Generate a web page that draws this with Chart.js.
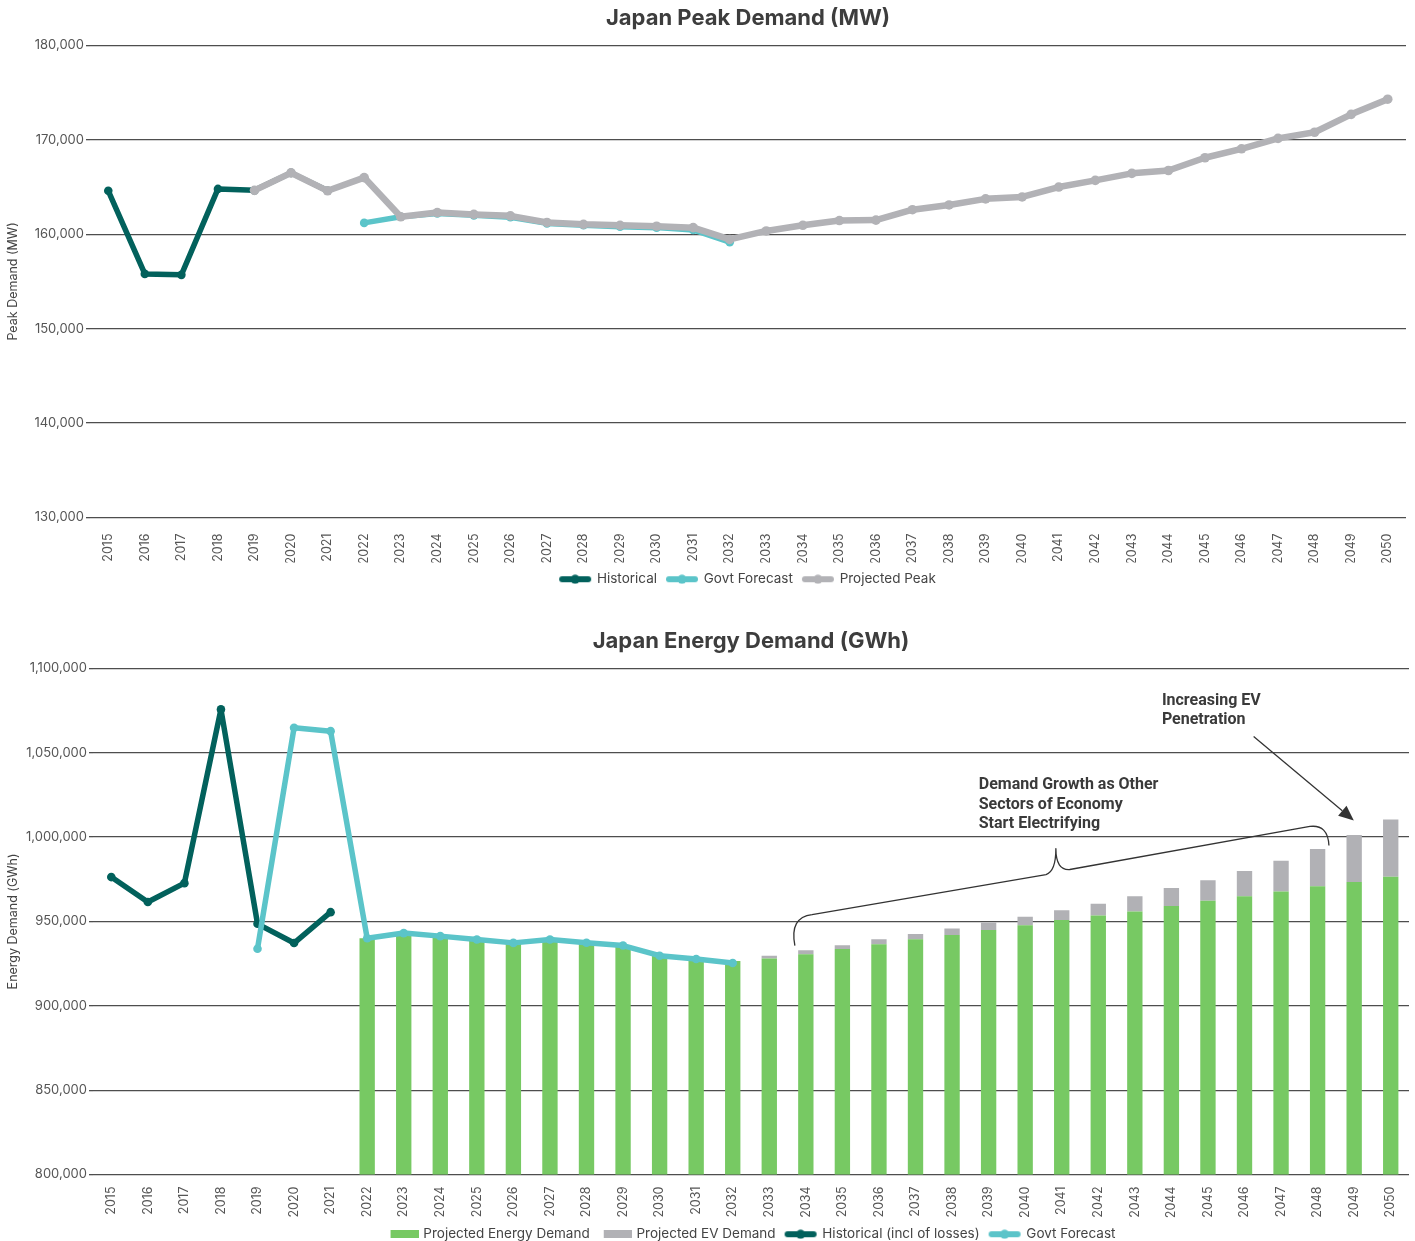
<!DOCTYPE html>
<html>
<head>
<meta charset="utf-8">
<title>Japan Peak and Energy Demand</title>
<script src="https://cdn.jsdelivr.net/npm/chart.js@4.4.1/dist/chart.umd.min.js"></script>
<style>
  html, body { margin: 0; padding: 0; background: #ffffff; overflow: hidden; }
  #peakWrap { position: absolute; left: 0; top: 0; width: 1415px; height: 596px; }
  #energyWrap { position: absolute; left: 0; top: 623px; width: 1415px; height: 628px; }
</style>
</head>
<body>
<div id="peakWrap"><canvas id="peakChart" width="1415" height="596"></canvas></div>
<div id="energyWrap"><canvas id="energyChart" width="1415" height="628"></canvas></div>
<script>
// ---- Categories ----
const years = ['2015','2016','2017','2018','2019','2020','2021','2022','2023','2024','2025','2026',
  '2027','2028','2029','2030','2031','2032','2033','2034','2035','2036','2037','2038','2039','2040',
  '2041','2042','2043','2044','2045','2046','2047','2048','2049','2050'];

// ---- Peak demand (MW) ----
const peakHistorical = [164600, 155800, 155700, 164800, 164650, 166500, 164600,
  null, null, null, null, null, null, null, null, null, null, null, null, null, null, null,
  null, null, null, null, null, null, null, null, null, null, null, null, null, null];
const peakGovtForecast = [null, null, null, null, null, null, null,
  161200, 161850, 162200, 162000, 161800, 161150, 160950, 160800, 160700, 160450, 159150,
  null, null, null, null, null, null, null, null, null, null, null, null, null, null, null, null, null, null];
const peakProjected = [null, null, null, null,
  164650, 166500, 164600, 166000, 161850, 162300, 162100, 161950, 161250, 161050, 160950, 160850,
  160700, 159450, 160350, 160950, 161450, 161500, 162600, 163100, 163750, 163950, 165000, 165700,
  166450, 166750, 168100, 169050, 170150, 170800, 172700, 174300];
const peakTicks = { min: 130000, max: 180000, step: 10000 };

// ---- Energy demand (GWh) ----
const energyProjected = [null, null, null, null, null, null, null,
  940000, 942500, 941000, 939000, 937000, 939000, 937000, 935500, 929500, 927500, 926500,
  928000, 930600, 933600, 936500, 939500, 941900, 944900, 947800, 950800, 953600, 955900, 959100,
  962300, 964900, 967800, 970800, 973400, 976500];
const energyEV = [null, null, null, null, null, null, null,
  0, 0, 0, 0, 0, 0, 0, 0, 0, 0, 0,
  1600, 2400, 2300, 3000, 3000, 3900, 4500, 5000, 5900, 6900, 9000, 10700,
  12100, 15000, 18200, 22200, 27900, 33900];
const energyHistorical = [976300, 961500, 972700, 1075700, 948600, 937200, 955500,
  null, null, null, null, null, null, null, null, null, null, null, null, null, null, null,
  null, null, null, null, null, null, null, null, null, null, null, null, null, null];
const energyGovtForecast = [null, null, null, null,
  933800, 1064800, 1062800, 940000, 943100, 941300, 939300, 937300, 939300, 937400, 935700,
  929700, 927700, 925400,
  null, null, null, null, null, null, null, null, null, null, null, null, null, null, null, null, null, null];
const energyTicks = { min: 800000, max: 1100000, step: 50000 };

// ---- Palette ----
const TEAL = '#02615c';
const CYAN = '#5bc4c9';
const GREY_LINE = '#b2b2b6';
const GREEN = '#77c963';
const GREY_BAR = '#b1b1b5';
const TEXT = '#444444';
const GRID = '#4e4e4e';

// Legend swatches: thick rounded line with a dot, or a flat block for bars
function lineSwatch(color) {
  const c = document.createElement('canvas');
  c.width = 34; c.height = 10;
  const g = c.getContext('2d');
  g.strokeStyle = color; g.lineWidth = 6; g.lineCap = 'round';
  g.beginPath(); g.moveTo(4, 5); g.lineTo(30, 5); g.stroke();
  g.fillStyle = color;
  g.beginPath(); g.arc(17, 5, 4.6, 0, Math.PI * 2); g.fill();
  return c;
}
function barSwatch(color) {
  const c = document.createElement('canvas');
  c.width = 34; c.height = 8;
  const g = c.getContext('2d');
  g.fillStyle = color; g.fillRect(6, 0, 28, 8);
  return c;
}

const baseFont = 'Inter, "Noto Sans", sans-serif';

function legendOptions(swatches) {
  return {
    position: 'bottom',
    fullSize: false,
    labels: {
      usePointStyle: true,
      pointStyleWidth: 30,
      boxHeight: 10,
      padding: 10,
      color: TEXT,
      font: { family: baseFont, size: 13.5 },
      generateLabels(chart) {
        const items = Chart.defaults.plugins.legend.labels.generateLabels(chart);
        items.sort((a, b) => a.datasetIndex - b.datasetIndex);
        items.forEach(it => { it.pointStyle = swatches[it.datasetIndex]; });
        return items;
      }
    }
  };
}

function xAxis(h, pad) {
  return {
    type: 'category',
    offset: true,
    grid: { display: false },
    border: { display: false },
    ticks: {
      autoSkip: false, minRotation: 90, maxRotation: 90,
      color: '#555555', font: { family: baseFont, size: 12.5 }, padding: pad
    },
    afterFit(s) { s.height = h; }
  };
}

function yAxis(t, titleText, w) {
  return {
    min: t.min, max: t.max,
    border: { display: false },
    grid: { color: GRID, lineWidth: 1.3, tickLength: 4, drawTicks: true },
    ticks: { stepSize: t.step, color: '#555555', font: { family: baseFont, size: 13 }, padding: 2 },
    title: { display: true, text: titleText, color: TEXT, font: { family: baseFont, size: 12.5 }, padding: { top: 6, bottom: 0 } },
    afterFit(s) { s.width = w; }
  };
}

function lineSet(label, data, color, order, extra) {
  return Object.assign({
    type: 'line', label, data,
    borderColor: color, backgroundColor: color,
    borderWidth: 5.5, pointRadius: 4.3, pointHoverRadius: 4.3,
    pointBackgroundColor: color, pointBorderColor: color, pointBorderWidth: 0,
    borderCapStyle: 'round', borderJoinStyle: 'round',
    tension: 0, spanGaps: false, order
  }, extra || {});
}

Chart.defaults.font.family = baseFont;

const titleFont = { family: baseFont, size: 22, weight: 'bold' };

// ---- Chart 1: peak demand ----
new Chart(document.getElementById('peakChart'), {
  type: 'line',
  data: {
    labels: years,
    datasets: [
      lineSet('Historical', peakHistorical, TEAL, 3),
      lineSet('Govt Forecast', peakGovtForecast, CYAN, 2),
      lineSet('Projected Peak', peakProjected, GREY_LINE, 1, { borderWidth: 6.5, pointRadius: 4.8 })
    ]
  },
  options: {
    responsive: false, animation: false, devicePixelRatio: 1,
    layout: { padding: { left: 0, right: 9, top: 0, bottom: 0 } },
    plugins: {
      title: {
        display: true, fullSize: false, text: 'Japan Peak Demand (MW)', color: '#3d3d3d',
        font: titleFont, padding: { top: 5, bottom: 14 }
      },
      legend: legendOptions([lineSwatch(TEAL), lineSwatch(CYAN), lineSwatch(GREY_LINE)]),
      tooltip: { enabled: false }
    },
    scales: { x: xAxis(45, 8), y: yAxis(peakTicks, 'Peak Demand (MW)', 90) }
  }
});

// ---- Callouts on the energy chart: brace over the growth period and EV arrow ----
const calloutPlugin = {
  id: 'callouts',
  afterDatasetsDraw(chart) {
    const { ctx, scales: { x, y } } = chart;
    const P = (i, v) => [x.getPixelForValue(i), y.getPixelForValue(v)];
    ctx.save();

    // curly brace
    ctx.strokeStyle = '#333333';
    ctx.lineWidth = 1.3;
    ctx.lineJoin = 'round';
    ctx.beginPath();
    let p = P(18.70, 935700); ctx.moveTo(p[0], p[1]);
    let c = P(18.55, 952500); p = P(19.17, 954100); ctx.quadraticCurveTo(c[0], c[1], p[0], p[1]);
    p = P(25.57, 977800); ctx.lineTo(p[0], p[1]);
    c = P(25.84, 979600); p = P(25.84, 993200); ctx.quadraticCurveTo(c[0], c[1], p[0], p[1]);
    c = P(25.84, 980200); p = P(26.22, 980800); ctx.quadraticCurveTo(c[0], c[1], p[0], p[1]);
    p = P(32.79, 1006300); ctx.lineTo(p[0], p[1]);
    c = P(33.28, 1007600); p = P(33.31, 995000); ctx.quadraticCurveTo(c[0], c[1], p[0], p[1]);
    ctx.stroke();

    // arrow towards the last EV bars
    const a0 = P(31.25, 1059700), a1 = P(33.99, 1009900);
    const ang = Math.atan2(a1[1] - a0[1], a1[0] - a0[0]);
    const headLen = 15, headHalf = 6.5;
    const bx = a1[0] - headLen * Math.cos(ang), by = a1[1] - headLen * Math.sin(ang);
    ctx.beginPath(); ctx.moveTo(a0[0], a0[1]); ctx.lineTo(bx, by); ctx.stroke();
    ctx.fillStyle = '#333333';
    ctx.beginPath();
    ctx.moveTo(a1[0], a1[1]);
    ctx.lineTo(bx + headHalf * Math.sin(ang), by - headHalf * Math.cos(ang));
    ctx.lineTo(bx - headHalf * Math.sin(ang), by + headHalf * Math.cos(ang));
    ctx.closePath(); ctx.fill();

    // labels
    ctx.fillStyle = '#3a3a3a';
    ctx.font = 'bold 16px Roboto, "Liberation Sans", sans-serif';
    ctx.textBaseline = 'middle';
    ctx.textAlign = 'left';
    let t = P(28.74, 1080400);
    ['Increasing EV', 'Penetration'].forEach((s, k) => ctx.fillText(s, t[0], t[1] + k * 19));
    t = P(23.73, 1030600);
    ['Demand Growth as Other', 'Sectors of Economy', 'Start Electrifying'].forEach((s, k) => ctx.fillText(s, t[0], t[1] + k * 19.5));

    ctx.restore();
  }
};

// ---- Chart 2: energy demand ----
new Chart(document.getElementById('energyChart'), {
  type: 'bar',
  data: {
    labels: years,
    datasets: [
      { type: 'bar', label: 'Projected Energy Demand', data: energyProjected, backgroundColor: GREEN,
        stack: 'projection', barPercentage: 0.42, categoryPercentage: 1, order: 3 },
      { type: 'bar', label: 'Projected EV Demand', data: energyEV, backgroundColor: GREY_BAR,
        stack: 'projection', barPercentage: 0.42, categoryPercentage: 1, order: 4 },
      lineSet('Historical (incl of losses)', energyHistorical, TEAL, 2, { stack: 'hist' }),
      lineSet('Govt Forecast', energyGovtForecast, CYAN, 1, { stack: 'govt' })
    ]
  },
  options: {
    responsive: false, animation: false, devicePixelRatio: 1,
    layout: { padding: { left: 0, right: 6, top: 0, bottom: 0 } },
    plugins: {
      title: {
        display: true, fullSize: false, text: 'Japan Energy Demand (GWh)', color: '#3d3d3d',
        font: titleFont, padding: { top: 5, bottom: 14 }
      },
      legend: legendOptions([barSwatch(GREEN), barSwatch(GREY_BAR), lineSwatch(TEAL), lineSwatch(CYAN)]),
      tooltip: { enabled: false }
    },
    scales: {
      x: Object.assign(xAxis(43, 4), { stacked: true }),
      y: Object.assign(yAxis(energyTicks, 'Energy Demand (GWh)', 93), { stacked: true })
    }
  },
  plugins: [calloutPlugin]
});
</script>
</body>
</html>
